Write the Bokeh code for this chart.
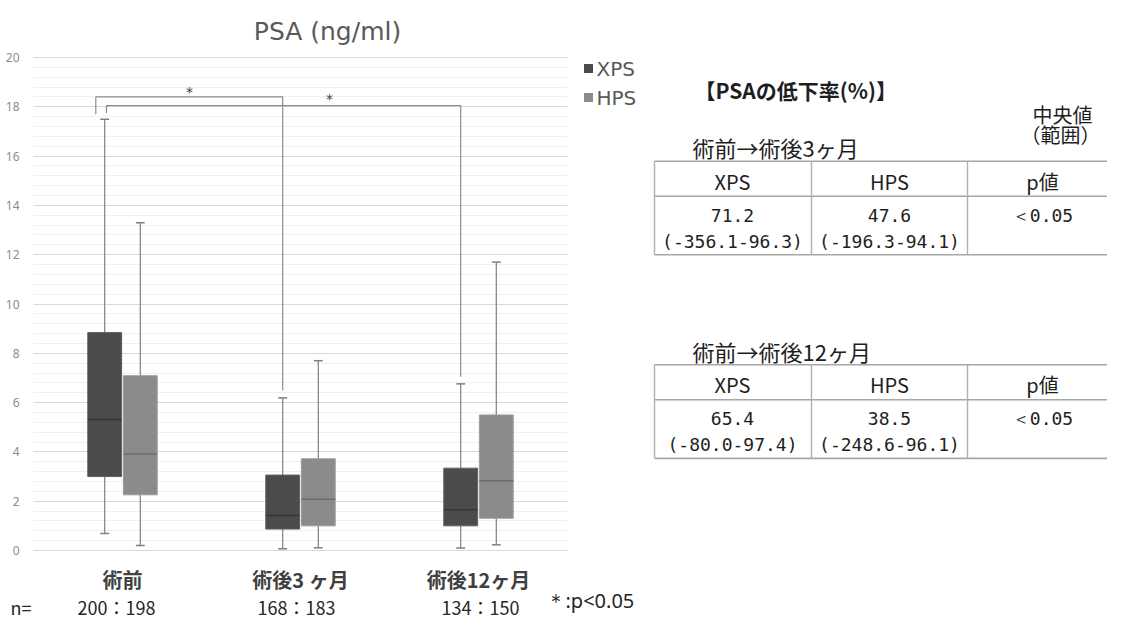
import numpy as np
from bokeh.plotting import figure
from bokeh.models import Range1d, SingleIntervalTicker, FixedTicker
from bokeh.embed import file_html
from bokeh.resources import INLINE
from bokeh.core.properties import value

# ---------------- data ----------------
categories = ["術前", "術後3 ヶ月", "術後12ヶ月"]
series = ["XPS", "HPS"]

xps_low = [0.69, 0.07, 0.10]
xps_q1 = [3.00, 0.87, 1.00]
xps_med = [5.31, 1.42, 1.65]
xps_q3 = [8.84, 3.06, 3.34]
xps_high = [17.5, 6.19, 6.76]

hps_low = [0.20, 0.11, 0.23]
hps_q1 = [2.26, 1.00, 1.31]
hps_med = [3.91, 2.08, 2.83]
hps_q3 = [7.09, 3.72, 5.50]
hps_high = [13.3, 7.70, 11.7]

n_counts = ["200：198", "168：183", "134：150"]

sig_pairs = [(0, 1), (0, 2)]
sig_top = [18.4, 18.05]
sig_left_end = [17.7, 17.75]
sig_right_end = [6.5, 7.05]

y_max = 20
y_tick_interval = 2

table_titles = ["術前→術後3ヶ月", "術前→術後12ヶ月"]
table_headers = ["XPS", "HPS", "p値"]
xps_rate = ["71.2", "65.4"]
xps_range = ["(-356.1-96.3)", "(-80.0-97.4)"]
hps_rate = ["47.6", "38.5"]
hps_range = ["(-196.3-94.1)", "(-248.6-96.1)"]
p_values = ["＜0.05", "＜0.05"]

# ---------------- styles / layout ----------------
JP = "Noto Sans CJK JP"
MONO = "DejaVu Sans Mono"
XPS_FILL, XPS_LINE, XPS_MED = "#4b4b4b", "#5e5e5e", "#363636"
HPS_FILL, HPS_LINE, HPS_MED = "#8b8b8b", "#9a9a9a", "#6c6c6c"
WHISK = "#7f7f7f"
TXT = "#1e1e1e"

W, H = 1107, 620
FL, FB = 33, 550               # canvas px of the chart area's left edge and its zero line
PX_X, PX_Y = 178.0, 24.65      # px per category / px per unit


def sx(px):
    return (px - FL) / PX_X - 0.5


def sy(py):
    return (FB - py) / PX_Y


p = figure(width=W, height=H,
           x_range=Range1d(sx(0), sx(W)),
           y_range=Range1d(sy(H), sy(0)),
           output_backend="svg", toolbar_location=None, min_border=0)
p.outline_line_color = None
p.background_fill_color = "white"
p.border_fill_color = "white"
p.xgrid.grid_line_color = None

# y axis drawn inside the frame at the chart's left edge
yax = p.yaxis[0]
yax.fixed_location = -0.5
yax.bounds = (0, y_max)
yax.ticker = SingleIntervalTicker(interval=y_tick_interval, num_minor_ticks=5)
yax.axis_line_color = None
yax.major_tick_line_color = None
yax.minor_tick_line_color = None
yax.major_label_text_font = "Noto Sans"
yax.major_label_text_font_size = "12px"
yax.major_label_text_color = "#8c8c8c"
yax.major_label_standoff = 8

xax = p.xaxis[0]
xax.fixed_location = 0
xax.bounds = (-0.5, len(categories) - 0.5)
xax.ticker = FixedTicker(ticks=list(range(len(categories))))
xax.major_label_overrides = {i: c for i, c in enumerate(categories)}
xax.axis_line_color = None
xax.major_tick_line_color = None
xax.minor_tick_line_color = None
xax.major_label_text_font = JP
xax.major_label_text_font_size = "20px"
xax.major_label_text_font_style = "bold"
xax.major_label_text_color = "#404040"
xax.major_label_standoff = 8

grid = p.ygrid[0]
grid.grid_line_color = "#d9d9d9"
grid.minor_grid_line_color = "#efefef"
if "cross_bounds" in grid.properties():
    grid.cross_bounds = (-0.5, len(categories) - 0.5)
else:
    # hide grid lines outside the chart area
    p.quad(left=[sx(0), len(categories) - 0.5], right=[-0.5, sx(W)],
           bottom=[-0.2, -0.2], top=[y_max + 0.2, y_max + 0.2],
           fill_color="white", line_color=None)

x = np.arange(len(categories), dtype=float)
OFF, BW, CAP = 0.1, 0.19, 0.05

groups = [
    (xps_low, xps_q1, xps_med, xps_q3, xps_high, -OFF, XPS_FILL, XPS_LINE, XPS_MED),
    (hps_low, hps_q1, hps_med, hps_q3, hps_high, +OFF, HPS_FILL, HPS_LINE, HPS_MED),
]
for low, q1, med, q3, high, dx, fill, line, medc in groups:
    xs = x + dx
    p.segment(xs, high, xs, q3, line_color=WHISK, line_width=1.2)
    p.segment(xs, q1, xs, low, line_color=WHISK, line_width=1.2)
    p.segment(xs - CAP / 2, high, xs + CAP / 2, high, line_color=WHISK, line_width=1.5)
    p.segment(xs - CAP / 2, low, xs + CAP / 2, low, line_color=WHISK, line_width=1.5)
    p.vbar(x=xs, width=BW, top=q3, bottom=q1, fill_color=fill, line_color=line, line_width=1)
    p.segment(xs - BW / 2, med, xs + BW / 2, med, line_color=medc, line_width=1.5)

# significance brackets
left_shift = [-0.05, 0.01]
bx, by = [], []
for k, (a, b) in enumerate(sig_pairs):
    xl = x[a] - OFF + left_shift[k]
    xr = x[b] - OFF
    bx.append([xl, xl, xr, xr])
    by.append([sig_left_end[k], sig_top[k], sig_top[k], sig_right_end[k]])
p.multi_line(bx, by, line_color="#8c8c8c", line_width=1.2)


def txt(xs, ys, texts, size, color=TXT, font=JP, align="left", style="normal"):
    p.text(x=xs, y=ys, text=texts, text_font=value(font), text_font_size=size,
           text_color=color, text_align=align, text_baseline="middle",
           text_font_style=style)


txt([sx(189), sx(329)], [sy(91), sy(98)], ["*", "*"], "14px", "#404040",
    font="DejaVu Sans", align="center")

# title
txt([sx(327)], [sy(31)], ["PSA (ng/ml)"], "25px", "#595959", font="DejaVu Sans", align="center")

# legend
leg_y = [68, 97]
leg_col = [XPS_FILL, HPS_FILL]
p.scatter([sx(588)] * 2, [sy(v) for v in leg_y], marker="square", size=9,
          fill_color=leg_col, line_color=None)
txt([sx(596)] * 2, [sy(v) for v in leg_y], series, "20px", "#595959", font="DejaVu Sans")

# sample sizes
txt([sx(10)], [sy(606)], ["n="], "18px", "#262626")
txt([sx(v) for v in [77, 257, 441]], [sy(606)] * 3, n_counts, "18px", "#262626")
txt([sx(545)], [sy(600)], ["＊:p<0.05"], "20px", "#262626", font="Noto Sans")

# ---------------- tables ----------------
txt([sx(694)], [sy(89)], ["【PSAの低下率(%)】"], "21px", style="bold")
txt([sx(1062), sx(1060)], [sy(114), sy(134)], ["中央値", "（範囲）"], "20px", align="center")

table_top = [160.7, 364.3]
HEAD_H, BODY_H = 35.0, 58.6
col_edges = [654, 811, 967]
col_centers = [732, 889, 1042]
right_end = W
for k in range(len(table_titles)):
    t0 = table_top[k]
    t1 = t0 + HEAD_H
    t2 = t1 + BODY_H
    txt([sx(692)], [sy(t0 - 14)], [table_titles[k]], "22px")
    p.segment(x0=[sx(col_edges[0])] * 3, y0=[sy(t0), sy(t1), sy(t2)],
              x1=[sx(right_end)] * 3, y1=[sy(t0), sy(t1), sy(t2)],
              line_color="#a6a6a6", line_width=1.6)
    p.segment(x0=[sx(c) for c in col_edges], y0=[sy(t0)] * 3,
              x1=[sx(c) for c in col_edges], y1=[sy(t2)] * 3,
              line_color="#b0b0b0", line_width=1.4)
    txt([sx(c) for c in col_centers], [sy(t0 + 20)] * 3, table_headers, "20px", align="center")
    txt([sx(c) for c in col_centers], [sy(t1 + 19)] * 3,
        [xps_rate[k], hps_rate[k], p_values[k]], "18px", font=MONO, align="center")
    txt([sx(c) for c in col_centers[:2]], [sy(t1 + 45)] * 2,
        [xps_range[k], hps_range[k]], "18px", font=MONO, align="center")

open("out.html", "w").write(file_html(p, INLINE))
